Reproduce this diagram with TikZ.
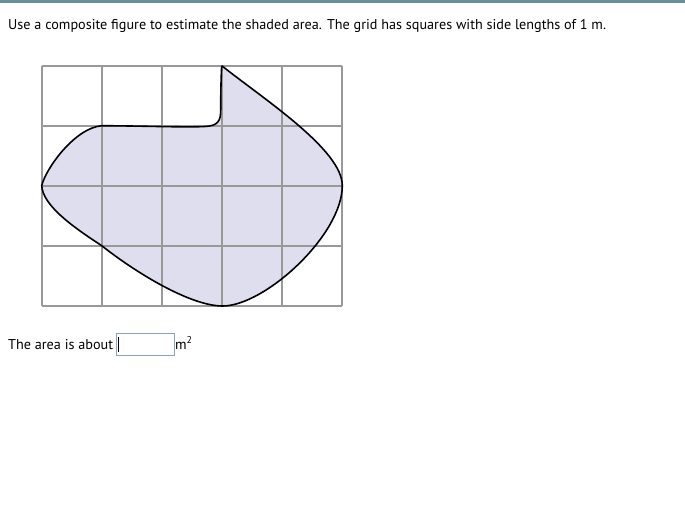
\documentclass[tikz,border=0pt]{standalone}
\usepackage{fontspec}
\setmainfont{PT Sans}
\begin{document}
\begin{tikzpicture}[x=1pt,y=-1pt,
  gridline/.style={draw=black!40,line width=1.8pt},
  txt/.style={inner sep=0pt,anchor=base west,font=\fontsize{14.2}{16}\selectfont}]
\definecolor{blobfill}{RGB}{222,222,238}
\definecolor{topbar}{RGB}{104,143,153}
\definecolor{boxblue}{RGB}{140,160,205}
\useasboundingbox (0,0) rectangle (685,526);
\fill[topbar] (0,0) rectangle (685,3);
\node[txt] (title) at (8,30) {Use a composite figure to estimate the shaded area. The grid has squares with side lengths of 1 m.};
\def\blob{(221.7,65.7) .. controls (265,100) and (342.3,150) .. (342.3,185.7)
  .. controls (342.3,235) and (265,306) .. (222.5,306)
  .. controls (190,306) and (135,272) .. (101.7,245.7)
  .. controls (70,225) and (43,205) .. (41.7,185.7)
  .. controls (46,168) and (75,128) .. (101.7,125.7)
  .. controls (150,126) and (185,127.5) .. (205,126.5)
  .. controls (218,125.8) and (220.7,121) .. (220.7,110)
  .. controls (220.7,90) and (221.2,75) .. (221.7,65.7)}
% shaded region
\fill[blobfill] \blob -- cycle;
% grid
\foreach \i in {0,...,5} {\draw[gridline] ({41.7+60.12*\i},65.7) -- ({41.7+60.12*\i},305.7);}
\foreach \j in {0,...,4} {\draw[gridline] (41.7,{65.7+60*\j}) -- (342.3,{65.7+60*\j});}
% outline
\draw[black,line width=1.6pt] \blob;
\node[txt] (lbl) at (8,349) {The area is about};
\node[draw=boxblue,line width=1pt,minimum width=58pt,minimum height=22pt,inner sep=0pt,anchor=north west] (box) at (116,333) {};
\draw[line width=1pt] ([xshift=2.5pt,yshift=4pt]box.south west) coordinate (c1) -- ([xshift=2.5pt,yshift=-4pt]box.north west) coordinate (c2);
\node[txt] (unit) at (175,349) {m\textsuperscript{2}};
\end{tikzpicture}
\end{document}
